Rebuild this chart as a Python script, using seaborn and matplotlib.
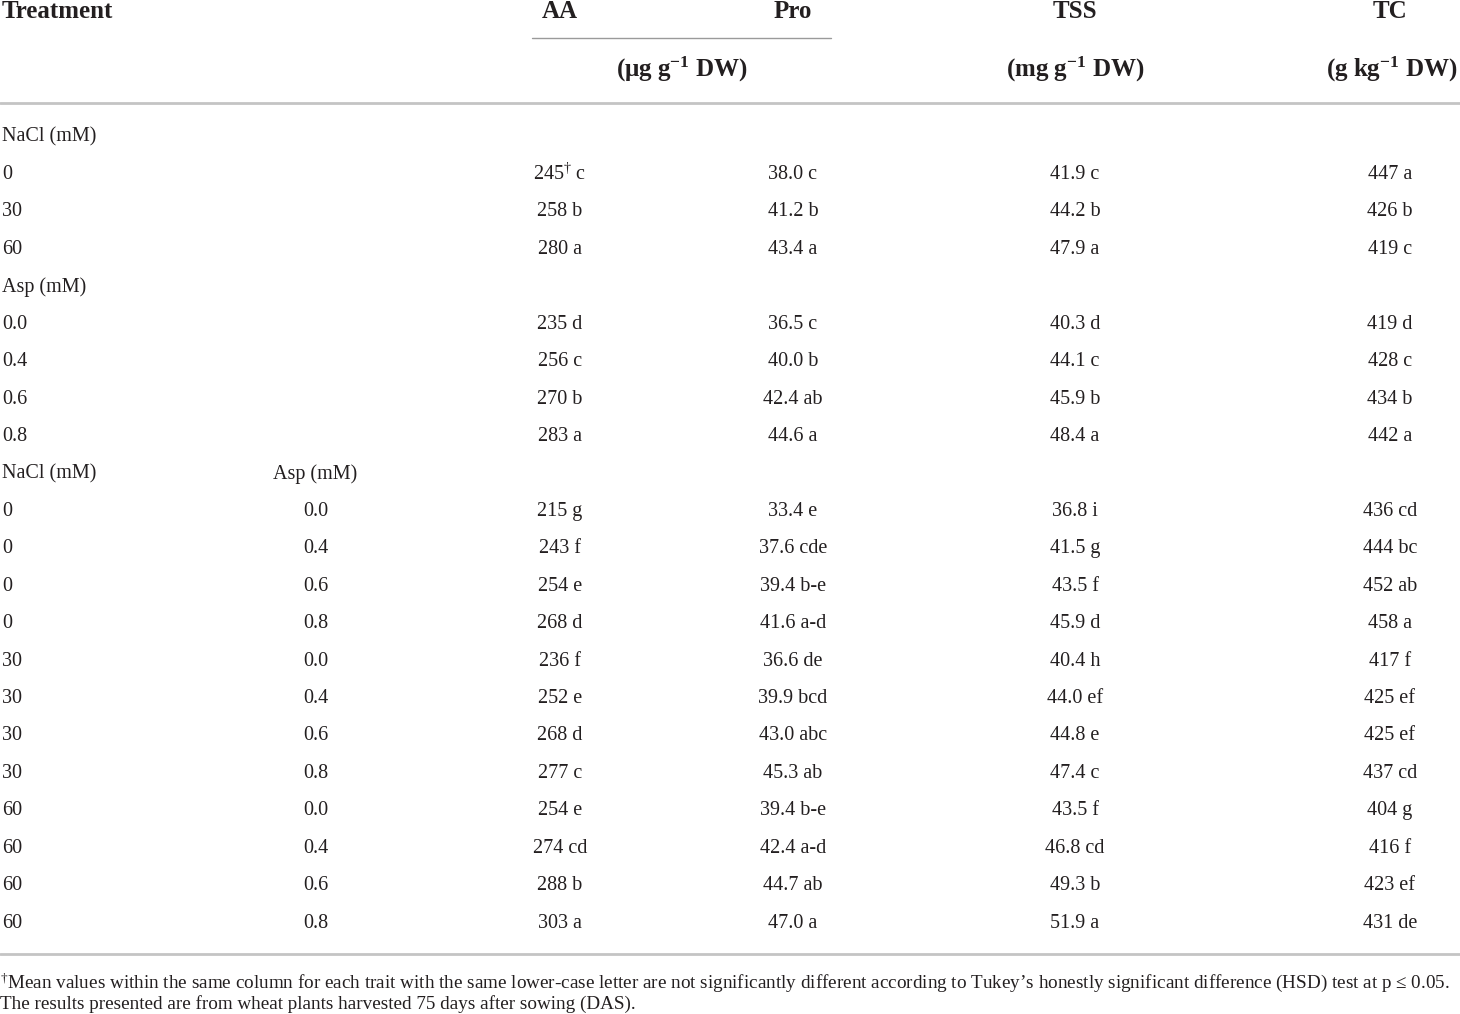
import matplotlib
matplotlib.use("Agg")
import matplotlib.pyplot as plt
import seaborn as sns

# table values
nacl_levels = ["0", "30", "60"]
nacl_aa = [245, 258, 280]
nacl_aa_sig = ["c", "b", "a"]
nacl_pro = [38.0, 41.2, 43.4]
nacl_pro_sig = ["c", "b", "a"]
nacl_tss = [41.9, 44.2, 47.9]
nacl_tss_sig = ["c", "b", "a"]
nacl_tc = [447, 426, 419]
nacl_tc_sig = ["a", "b", "c"]

asp_levels = ["0.0", "0.4", "0.6", "0.8"]
asp_aa = [235, 256, 270, 283]
asp_aa_sig = ["d", "c", "b", "a"]
asp_pro = [36.5, 40.0, 42.4, 44.6]
asp_pro_sig = ["c", "b", "ab", "a"]
asp_tss = [40.3, 44.1, 45.9, 48.4]
asp_tss_sig = ["d", "c", "b", "a"]
asp_tc = [419, 428, 434, 442]
asp_tc_sig = ["d", "c", "b", "a"]

combo_nacl = ["0", "0", "0", "0", "30", "30", "30", "30", "60", "60", "60", "60"]
combo_asp = ["0.0", "0.4", "0.6", "0.8"] * 3
combo_aa = [215, 243, 254, 268, 236, 252, 268, 277, 254, 274, 288, 303]
combo_aa_sig = ["g", "f", "e", "d", "f", "e", "d", "c", "e", "cd", "b", "a"]
combo_pro = [33.4, 37.6, 39.4, 41.6, 36.6, 39.9, 43.0, 45.3, 39.4, 42.4, 44.7, 47.0]
combo_pro_sig = ["e", "cde", "b-e", "a-d", "de", "bcd", "abc", "ab", "b-e", "a-d", "ab", "a"]
combo_tss = [36.8, 41.5, 43.5, 45.9, 40.4, 44.0, 44.8, 47.4, 43.5, 46.8, 49.3, 51.9]
combo_tss_sig = ["i", "g", "f", "d", "h", "ef", "e", "c", "f", "cd", "b", "a"]
combo_tc = [436, 444, 452, 458, 417, 425, 425, 437, 404, 416, 423, 431]
combo_tc_sig = ["cd", "bc", "ab", "a", "f", "ef", "ef", "cd", "g", "f", "ef", "de"]

traits = ["AA", "Pro", "TSS", "TC"]

sns.set_theme(style="white")
plt.rcParams["font.family"] = ["Liberation Serif", "DejaVu Serif"]
plt.rcParams["mathtext.fontset"] = "custom"
plt.rcParams["mathtext.rm"] = "Liberation Serif"
plt.rcParams["mathtext.bf"] = "Liberation Serif:bold"
plt.rcParams["mathtext.it"] = "Liberation Serif:italic"

fig = plt.figure(figsize=(14.6, 10.14), dpi=100)
ax = fig.add_axes([0, 0, 1, 1])
ax.set_xlim(0, 1460)
ax.set_ylim(1014, 0)
ax.axis("off")

# layout
col_x = [560, 793, 1075, 1390]
asp_x = 316
row0, step = 137, 37.43
fs = 14.5
hfs = 18
txt = "#231f20"

# header
ax.text(2, 12, "Treatment", fontsize=hfs, fontweight="bold", va="center", ha="left", color=txt)
for x, t in zip(col_x, traits):
    ax.text(x, 12, t, fontsize=hfs, fontweight="bold", va="center", ha="center", color=txt)
ax.plot([532, 831], [38, 38], color="#9a9a9a", lw=1)
ax.text(682, 69, r"(μg g$^{\mathbf{-1}}$ DW)", fontsize=hfs, fontweight="bold", va="center", ha="center", color=txt)
ax.text(1075, 69, r"(mg g$^{\mathbf{-1}}$ DW)", fontsize=hfs, fontweight="bold", va="center", ha="center", color=txt)
ax.text(1458, 69, r"(g kg$^{\mathbf{-1}}$ DW)", fontsize=hfs, fontweight="bold", va="center", ha="right", color=txt)
ax.axhline(103, color="#c4c4c4", lw=2)


def row_y(i):
    return row0 + i * step


def put_values(i, vals, first_mark=False):
    for j, (x, s) in enumerate(zip(col_x, vals)):
        if first_mark and j == 0:
            s = s.replace(" ", r"$^{\dag}$ ", 1)
        ax.text(x, row_y(i), s, fontsize=fs, va="center", ha="center", color=txt)


r = 0
ax.text(2, row_y(r), "NaCl (mM)", fontsize=fs, va="center", color=txt)
r += 1
for k, lev in enumerate(nacl_levels):
    ax.text(2, row_y(r), lev, fontsize=fs, va="center", color=txt)
    put_values(r, [f"{nacl_aa[k]} {nacl_aa_sig[k]}", f"{nacl_pro[k]:.1f} {nacl_pro_sig[k]}",
                   f"{nacl_tss[k]:.1f} {nacl_tss_sig[k]}", f"{nacl_tc[k]} {nacl_tc_sig[k]}"],
               first_mark=(k == 0))
    r += 1

ax.text(2, row_y(r), "Asp (mM)", fontsize=fs, va="center", color=txt)
r += 1
for k, lev in enumerate(asp_levels):
    ax.text(2, row_y(r), lev, fontsize=fs, va="center", color=txt)
    put_values(r, [f"{asp_aa[k]} {asp_aa_sig[k]}", f"{asp_pro[k]:.1f} {asp_pro_sig[k]}",
                   f"{asp_tss[k]:.1f} {asp_tss_sig[k]}", f"{asp_tc[k]} {asp_tc_sig[k]}"])
    r += 1

ax.text(2, row_y(r), "NaCl (mM)", fontsize=fs, va="center", color=txt)
ax.text(273, row_y(r), "Asp (mM)", fontsize=fs, va="center", color=txt)
r += 1
for k in range(len(combo_nacl)):
    ax.text(2, row_y(r), combo_nacl[k], fontsize=fs, va="center", color=txt)
    ax.text(asp_x, row_y(r), combo_asp[k], fontsize=fs, va="center", ha="center", color=txt)
    put_values(r, [f"{combo_aa[k]} {combo_aa_sig[k]}", f"{combo_pro[k]:.1f} {combo_pro_sig[k]}",
                   f"{combo_tss[k]:.1f} {combo_tss_sig[k]}", f"{combo_tc[k]} {combo_tc_sig[k]}"])
    r += 1

ax.axhline(954, color="#c4c4c4", lw=2)

note1 = (r"$^{\dag}$Mean values within the same column for each trait with the same lower-case letter "
         "are not significantly different according to Tukey’s honestly significant difference (HSD) test at p ≤ 0.05.")
note2 = "The results presented are from wheat plants harvested 75 days after sowing (DAS)."
ax.text(0, 983, note1, fontsize=13.8, va="center", ha="left", color=txt)
ax.text(0, 1004, note2, fontsize=13.8, va="center", ha="left", color=txt)

fig.savefig("out.png", dpi=100, facecolor="white")
